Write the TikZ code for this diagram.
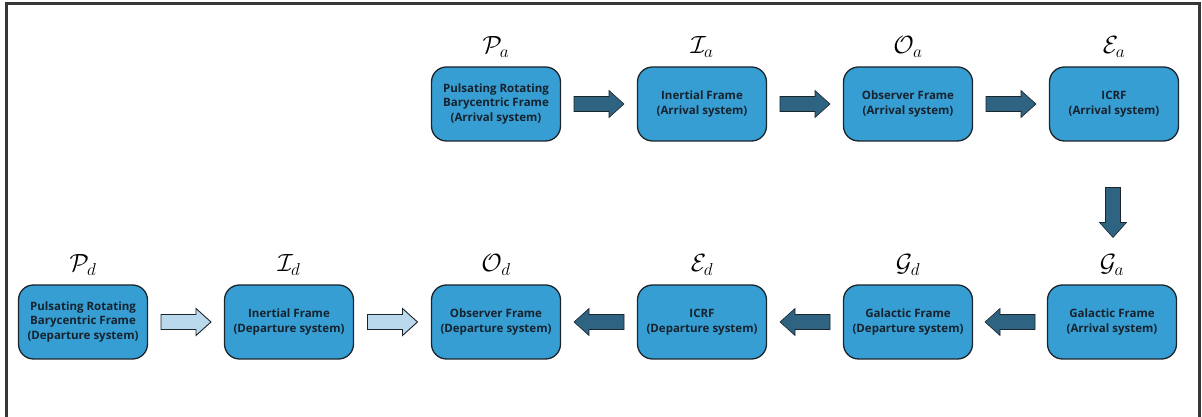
\documentclass[tikz,border=0pt]{standalone}
\usepackage{fontspec}
\setsansfont{Open Sans}
\usetikzlibrary{calc}
\definecolor{boxblue}{RGB}{54,158,210}
\definecolor{boxtext}{RGB}{22,34,46}
\definecolor{outl}{RGB}{28,36,44}
\definecolor{darkarrow}{RGB}{46,100,130}
\definecolor{lightarrow}{RGB}{186,217,236}
\definecolor{framecol}{RGB}{55,55,55}
\begin{document}
\begin{tikzpicture}[x=1pt,y=1pt,
  frame/.style={draw=framecol, line width=3pt},
  box/.style={draw=outl, line width=1.3pt, fill=boxblue, rounded corners=15pt,
    minimum width=129pt, minimum height=74pt, align=center, inner sep=0pt,
    font=\sffamily\bfseries\fontsize{11.5}{14.8}\selectfont, text=boxtext},
  lbl/.style={font=\fontsize{26}{26}\selectfont, inner sep=0pt},
  darr/.style={fill=darkarrow, draw=outl, line width=0.6pt},
  larr/.style={fill=lightarrow, draw=outl, line width=0.9pt},
  blockarrow/.pic={\path[pic actions] (-25,-7.5) -- (10,-7.5) -- (10,-13.5) -- (25,0) -- (10,13.5) -- (10,7.5) -- (-25,7.5) -- cycle;}
]
\useasboundingbox (0,0) rectangle (1202,417);
\draw[frame] (6.5,-2) -- (6.5,413.5) -- (1199.5,413.5) -- (1199.5,-2);

% top row
\node[box] (pa) at (496,313) {Pulsating Rotating\\Barycentric Frame\\(Arrival system)};
\node[box] (ia) at (702,313) {Inertial Frame\\(Arrival system)};
\node[box] (oa) at (908,313) {Observer Frame\\(Arrival system)};
\node[box] (ea) at (1114,313) {ICRF\\(Arrival system)};
% bottom row
\node[box] (pd) at (83,95) {Pulsating Rotating\\Barycentric Frame\\(Departure system)};
\node[box] (id) at (289,95) {Inertial Frame\\(Departure system)};
\node[box] (od) at (496,95) {Observer Frame\\(Departure system)};
\node[box] (ed) at (702,95) {ICRF\\(Departure system)};
\node[box] (gd) at (908,95) {Galactic Frame\\(Departure system)};
\node[box] (ga) at (1112,95) {Galactic Frame\\(Arrival system)};

% labels
\node[lbl] (lpa) at ($(pa.north)+(0,19)$) {$\mathcal{P}_a$};
\node[lbl] (lia) at ($(ia.north)+(0,19)$) {$\mathcal{I}_a$};
\node[lbl] (loa) at ($(oa.north)+(0,19)$) {$\mathcal{O}_a$};
\node[lbl] (lea) at ($(ea.north)+(0,19)$) {$\mathcal{E}_a$};
\node[lbl] (lpd) at ($(pd.north)+(0,19)$) {$\mathcal{P}_d$};
\node[lbl] (lid) at ($(id.north)+(0,19)$) {$\mathcal{I}_d$};
\node[lbl] (lod) at ($(od.north)+(0,19)$) {$\mathcal{O}_d$};
\node[lbl] (led) at ($(ed.north)+(0,19)$) {$\mathcal{E}_d$};
\node[lbl] (lgd) at ($(gd.north)+(0,19)$) {$\mathcal{G}_d$};
\node[lbl] (lga) at ($(ga.north)+(0,19)$) {$\mathcal{G}_a$};

% arrows
\pic[darr] at ($(pa.east)!0.5!(ia.west)$) {blockarrow};
\pic[darr] at ($(ia.east)!0.5!(oa.west)$) {blockarrow};
\pic[darr] at ($(oa.east)!0.5!(ea.west)$) {blockarrow};
\pic[darr, rotate=-90] at (1113,204.5) {blockarrow};
\pic[darr, rotate=180] at ($(ga.west)!0.5!(gd.east)$) {blockarrow};
\pic[darr, rotate=180] at ($(gd.west)!0.5!(ed.east)$) {blockarrow};
\pic[darr, rotate=180] at ($(ed.west)!0.5!(od.east)$) {blockarrow};
\pic[larr] at ($(pd.east)!0.5!(id.west)$) {blockarrow};
\pic[larr] at ($(id.east)!0.5!(od.west)$) {blockarrow};
\end{tikzpicture}
\end{document}
